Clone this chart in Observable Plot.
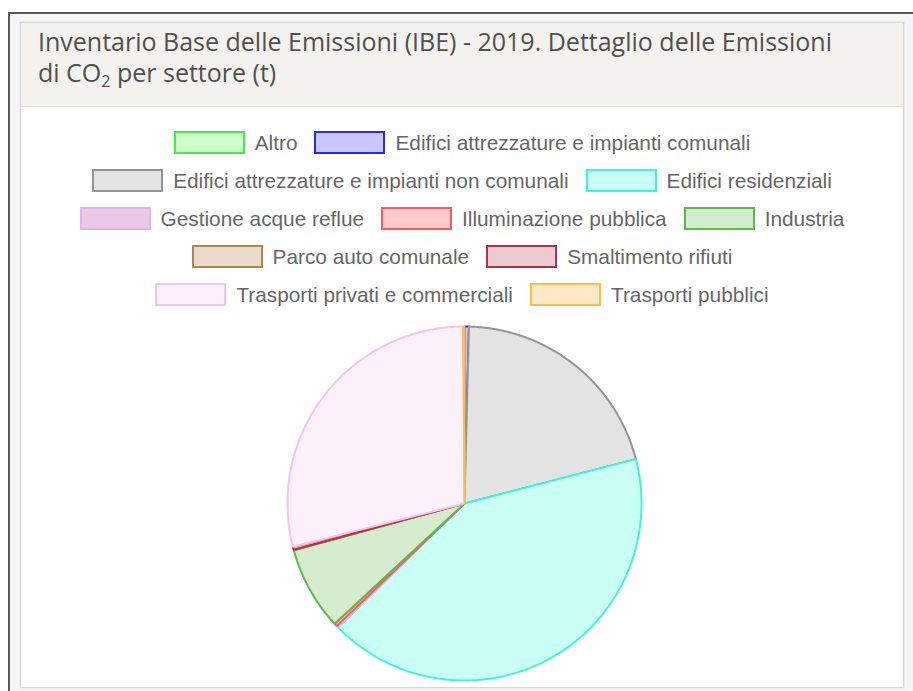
<!DOCTYPE html>
<html>
<head>
<meta charset="utf-8">
<script src="https://cdn.jsdelivr.net/npm/d3@7"></script>
<script src="https://cdn.jsdelivr.net/npm/@observablehq/plot@0.6"></script>
<style>
  html, body { margin: 0; padding: 0; background: #ffffff; width: 913px; height: 691px; overflow: hidden; }
  #outer { position: absolute; left: 8px; top: 12px; width: 910px; height: 690px; border-top: 2px solid #5a5a5a; border-left: 2px solid #5a5a5a; background: #f6f6f6; }
  #panel { position: absolute; left: 20px; top: 22px; width: 882px; height: 664px; border: 1px solid #d9d9d9; background: #fff; box-shadow: 0 0 0 1px #ececec; }
  #header { position: absolute; left: 0; top: 0; width: 882px; height: 83px; background: #f4f2ee; border-bottom: 1px solid #e2e0dc; }
  .tl { position: absolute; left: 17px; font-family: "Open Sans", sans-serif; font-size: 25px; line-height: 30px; color: #505050; white-space: nowrap; }
  .tl sub { font-size: 16px; vertical-align: -5px; line-height: 0; }
  #legend { position: absolute; left: 0; top: 108px; width: 882px; display: flex; flex-wrap: wrap; justify-content: center; row-gap: 15px; column-gap: 17px; font-family: "Liberation Sans", Arial, sans-serif; font-size: 20.8px; color: #666; }
  .item { display: flex; align-items: center; height: 23px; white-space: nowrap; }
  .box { width: 67px; height: 19px; border-width: 2px; border-style: solid; margin-right: 10px; flex: none; }
  #chart { position: absolute; left: 0px; top: 292px; }
</style>
</head>
<body>
<div id="outer"></div>
<div id="panel">
  <div id="header">
    <div class="tl" style="top:3px">Inventario Base delle Emissioni (IBE) - 2019. Dettaglio delle Emissioni</div>
    <div class="tl" style="top:34px">di CO<sub>2</sub> per settore (t)</div>
  </div>
  <div id="legend"></div>
  <div id="chart"></div>
</div>
<script>
const categories = [
  "Altro",
  "Edifici attrezzature e impianti comunali",
  "Edifici attrezzature e impianti non comunali",
  "Edifici residenziali",
  "Gestione acque reflue",
  "Illuminazione pubblica",
  "Industria",
  "Parco auto comunale",
  "Smaltimento rifiuti",
  "Trasporti privati e commerciali",
  "Trasporti pubblici"
];
const values = [0, 290, 14805, 30021, 118, 203, 5496, 41, 198, 20748, 80];
const borderColors = ["#44ee44", "#2a2aee", "#949494", "#3cf5dc", "#e2b4e2", "#ff5a5a", "#5cb848", "#b8824c", "#b0304a", "#f4c4ee", "#ffbb44"];
const fillColors = ["#ccffcc", "#c8c8ff", "#e3e3e3", "#c9fff4", "#eac8ea", "#ffcaca", "#d5ecce", "#eadccc", "#eacbd2", "#fcf1fa", "#fde9c8"];

// legend
const legend = document.getElementById("legend");
categories.forEach((c, i) => {
  const it = document.createElement("div");
  it.className = "item";
  const b = document.createElement("div");
  b.className = "box";
  b.style.background = fillColors[i];
  b.style.borderColor = borderColors[i];
  it.appendChild(b);
  const t = document.createElement("span");
  t.textContent = c;
  it.appendChild(t);
  legend.appendChild(it);
});

// pie slices as polygons
const arcs = d3.pie().sort(null).value(d => d)(values);
const pts = [];
arcs.forEach((a, i) => {
  const base = {cat: categories[i], fc: fillColors[i], sc: borderColors[i]};
  pts.push({...base, x: 0, y: 0});
  const n = Math.max(2, Math.ceil((a.endAngle - a.startAngle) / 0.005));
  for (let k = 0; k <= n; k++) {
    const t = a.startAngle + (a.endAngle - a.startAngle) * k / n;
    pts.push({...base, x: Math.sin(t), y: Math.cos(t)});
  }
  pts.push({...base, x: 0, y: 0});
});

const W = 882, H = 374, cx = 443, cy = 188, r = 177;
const chart = Plot.plot({
  width: W,
  height: H,
  marginLeft: cx - r,
  marginRight: W - cx - r,
  marginTop: cy - r,
  marginBottom: H - cy - r,
  x: {domain: [-1, 1], axis: null},
  y: {domain: [-1, 1], axis: null},
  style: {background: "transparent"},
  marks: [
    Plot.line(pts, {x: "x", y: "y", z: "cat", fill: "fc", stroke: "sc", strokeWidth: 2, strokeLinejoin: "miter", curve: "linear"})
  ]
});
document.getElementById("chart").appendChild(chart);
</script>
</body>
</html>
